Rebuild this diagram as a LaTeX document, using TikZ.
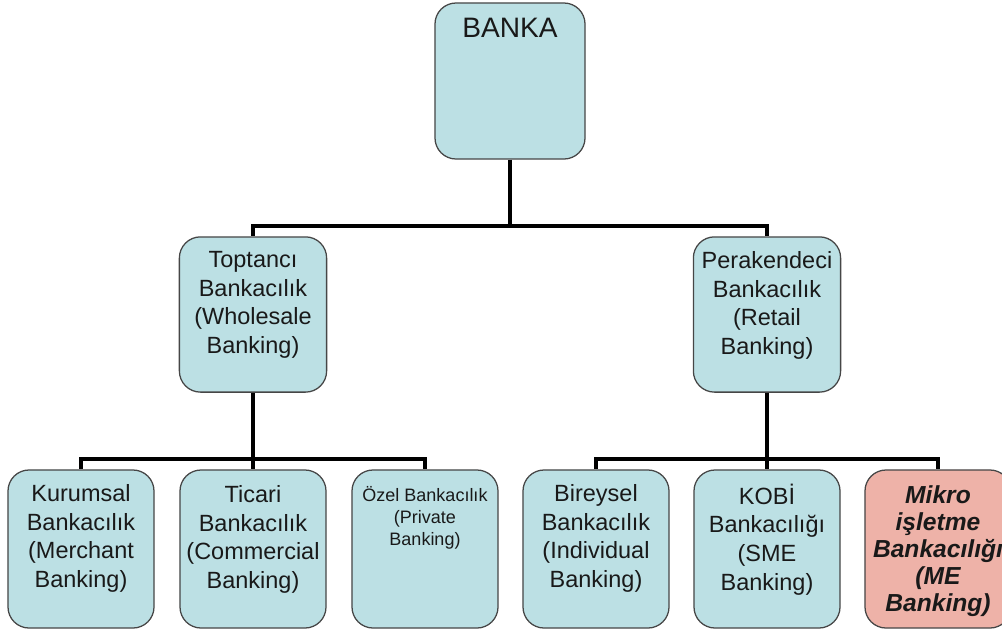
\documentclass[tikz,border=0pt]{standalone}
\usepackage{fontspec}
\setmainfont{Liberation Sans}
\usepackage{tikz}
\definecolor{kutumavi}{RGB}{188,224,228}
\definecolor{kutupembe}{RGB}{238,178,168}
\definecolor{kenar}{RGB}{70,70,70}
\definecolor{yazirenk}{RGB}{25,25,25}

\begin{document}
\begin{tikzpicture}[x=0.025cm,y=-0.025cm,
  kutu/.style={draw=kenar, line width=0.9pt, fill=kutumavi, rounded corners=15pt, inner sep=0pt},
  ust/.style={kutu, minimum width=3.75cm, minimum height=3.9cm},
  orta/.style={kutu, minimum width=3.68cm, minimum height=3.88cm},
  alt/.style={kutu, minimum width=3.65cm, minimum height=3.95cm},
  yazi/.style={anchor=north, inner sep=0pt, align=center, text=yazirenk, font=\fontsize{16.7}{20.3}\selectfont},
  baglanti/.style={line width=3.4pt}]
  \clip (0,0) rectangle (1002,632);
  % en ust kutu
  \node[ust] (banka) at (510,81) {};
  \node[yazi, font=\fontsize{20}{24}\selectfont] (bankayazi) at ([yshift=-0.38cm]banka.north) {BANKA};
  % ikinci seviye
  \node[orta] (toptanci) at (253,314.5) {};
  \node[yazi] (toptanciyazi) at ([yshift=-0.38cm]toptanci.north) {Toptancı\\Bankacılık\\(Wholesale\\Banking)};
  \node[orta] (perakende) at (767,314.5) {};
  \node[yazi] (perakendeyazi) at ([yshift=-0.38cm]perakende.north) {Perakendeci\\Bankacılık\\(Retail\\Banking)};
  % alt seviye
  \node[alt] (kurumsal) at (81,549) {};
  \node[yazi] (kurumsalyazi) at ([yshift=-0.38cm]kurumsal.north) {Kurumsal\\Bankacılık\\(Merchant\\Banking)};
  \node[alt] (ticari) at (253,549) {};
  \node[yazi] (ticariyazi) at ([yshift=-0.4cm]ticari.north) {Ticari\\Bankacılık\\(Commercial\\Banking)};
  \node[alt] (ozel) at (425,549) {};
  \node[yazi, font=\fontsize{12.8}{15.6}\selectfont] (ozelyazi) at ([yshift=-0.42cm]ozel.north) {Özel Bankacılık\\(Private\\Banking)};
  \node[alt] (bireysel) at (596,549) {};
  \node[yazi] (bireyselyazi) at ([yshift=-0.38cm]bireysel.north) {Bireysel\\Bankacılık\\(Individual\\Banking)};
  \node[alt] (kobi) at (767,549) {};
  \node[yazi] (kobiyazi) at ([yshift=-0.36cm]kobi.north) {KOBİ\\Bankacılığı\\(SME\\Banking)};
  \node[alt, fill=kutupembe] (mikro) at (938,549) {};
  \node[yazi, font=\fontsize{17.5}{19.2}\selectfont\bfseries\itshape] (mikroyazi) at ([yshift=-0.4cm]mikro.north) {Mikro\\işletme\\Bankacılığı\\(ME\\Banking)};
  % baglantilar
  \coordinate (bus1) at (510,226);
  \coordinate (bus2) at (253,459);
  \coordinate (bus3) at (767,459);
  \draw[baglanti] (banka.south) -- (bus1) -| (toptanci.north);
  \draw[baglanti] (bus1) -| (perakende.north);
  \draw[baglanti] (toptanci.south) -- (bus2) -| (kurumsal.north);
  \draw[baglanti] (bus2) -| (ozel.north);
  \draw[baglanti] (bus2) -- (ticari.north);
  \draw[baglanti] (perakende.south) -- (bus3) -| (bireysel.north);
  \draw[baglanti] (bus3) -| (mikro.north);
  \draw[baglanti] (bus3) -- (kobi.north);
\end{tikzpicture}
\end{document}
